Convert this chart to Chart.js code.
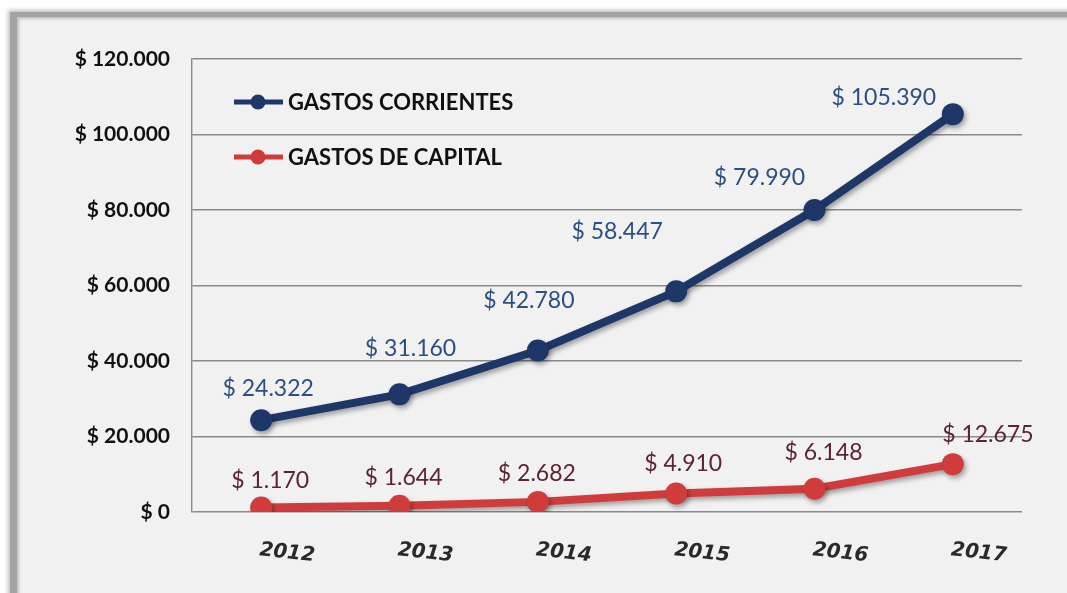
<!DOCTYPE html>
<html>
<head>
<meta charset="utf-8">
<script src="https://cdn.jsdelivr.net/npm/chart.js@4"></script>
<style>
    html, body { margin: 0; padding: 0; background: #fff; overflow: hidden; }
    #frame {
        position: absolute; left: 10px; top: 12px; width: 1100px; height: 640px;
        background: #f1f1f1;
        border-left: 7px solid #a3a3a3; border-top: 5px solid #a3a3a3;
        box-shadow: -2px -2px 4px rgba(0,0,0,0.25), inset 2px 2px 3px rgba(0,0,0,0.2);
    }
    #wrap { position: absolute; left: 0; top: 0; width: 1067px; height: 593px; }
</style>
</head>
<body>
<div id="frame"></div>
<div id="wrap"><canvas id="chart" width="1067" height="593"></canvas></div>
<script>
// Datos
const years = ['2012', '2013', '2014', '2015', '2016', '2017'];
const gastosCorrientes = [24322, 31160, 42780, 58447, 79990, 105390];
const gastosCapital = [1170, 1644, 2682, 4910, 6148, 12675];
const yTicks = [0, 20000, 40000, 60000, 80000, 100000, 120000];

const fmt = v => '$ ' + v.toLocaleString('de-DE');

// desplazamiento de las etiquetas respecto al punto (px)
const labelShift = [
    [[7, -32], [11, -46], [-9, -50], [-59, -60], [-55, -32], [-69, -17]],
    [[9, -27], [4, -28], [-1, -28], [7, -30], [9, -36], [35, -30]]
];
const labelColors = ['#2b4f80', '#5a2531'];

const shadowPlugin = {
    id: 'shadow',
    beforeDatasetDraw(chart) {
        const ctx = chart.ctx;
        ctx.save();
        ctx.shadowColor = 'rgba(0,0,0,0.35)';
        ctx.shadowBlur = 5;
        ctx.shadowOffsetX = 2;
        ctx.shadowOffsetY = 3;
    },
    afterDatasetDraw(chart) {
        chart.ctx.restore();
    }
};

const extras = {
    id: 'extras',
    afterDatasetsDraw(chart) {
        const ctx = chart.ctx;
        // etiquetas de datos
        ctx.save();
        ctx.font = '23px Lato';
        ctx.textAlign = 'center';
        ctx.textBaseline = 'middle';
        chart.data.datasets.forEach((ds, d) => {
            const meta = chart.getDatasetMeta(d);
            ctx.fillStyle = labelColors[d];
            meta.data.forEach((pt, i) => {
                const s = labelShift[d][i];
                ctx.fillText(fmt(ds.data[i]), pt.x + s[0], pt.y + s[1]);
            });
        });
        ctx.restore();

        // etiquetas eje x (inclinadas)
        const xs = chart.scales.x;
        ctx.save();
        ctx.font = 'italic bold 20px "DejaVu Sans"';
        ctx.fillStyle = '#2a2a2a';
        ctx.textAlign = 'center';
        ctx.textBaseline = 'middle';
        years.forEach((y, i) => {
            ctx.save();
            ctx.translate(xs.getPixelForTick(i) + 26, chart.chartArea.bottom + 41);
            ctx.rotate(6 * Math.PI / 180);
            ctx.fillText(y, 0, 0);
            ctx.restore();
        });
        ctx.restore();

        // leyenda
        const left = chart.chartArea.left;
        ctx.save();
        ctx.font = 'bold 22px Lato';
        ctx.textBaseline = 'middle';
        chart.data.datasets.forEach((ds, d) => {
            const y = 102 + d * 55;
            ctx.strokeStyle = ds.borderColor;
            ctx.lineWidth = 5;
            ctx.beginPath();
            ctx.moveTo(left + 42, y);
            ctx.lineTo(left + 91, y);
            ctx.stroke();
            ctx.fillStyle = ds.backgroundColor;
            ctx.beginPath();
            ctx.arc(left + 66, y, 7.5, 0, Math.PI * 2);
            ctx.fill();
            ctx.fillStyle = '#111';
            ctx.fillText(ds.label, left + 96, y + 1);
        });
        ctx.restore();
    }
};

new Chart(document.getElementById('chart'), {
    type: 'line',
    data: {
        labels: years,
        datasets: [{
            label: 'GASTOS CORRIENTES',
            data: gastosCorrientes,
            borderColor: '#1d3868',
            backgroundColor: '#1d3868',
            borderWidth: 8,
            pointRadius: 11,
            pointBorderWidth: 0,
            pointHoverRadius: 11,
            tension: 0
        }, {
            label: 'GASTOS DE CAPITAL',
            data: gastosCapital,
            borderColor: '#d03c3c',
            backgroundColor: '#d03c3c',
            borderWidth: 8,
            pointRadius: 11,
            pointBorderWidth: 0,
            pointHoverRadius: 11,
            tension: 0
        }]
    },
    options: {
        responsive: false,
        animation: false,
        devicePixelRatio: 1,
        layout: { padding: { left: 0, right: 45, top: 59, bottom: 0 } },
        plugins: { legend: { display: false }, tooltip: { enabled: false } },
        scales: {
            x: {
                offset: true,
                grid: { display: false },
                border: { display: false },
                ticks: { display: false },
                afterFit(s) { s.height = 81; }
            },
            y: {
                min: 0,
                max: 120000,
                afterBuildTicks(s) { s.ticks = yTicks.map(v => ({ value: v })); },
                afterFit(s) { s.width = 192; },
                grid: { color: '#8a8a8a', lineWidth: 1.4, drawTicks: false },
                border: { display: true, color: '#8a8a8a', width: 1.4 },
                ticks: {
                    padding: 22,
                    color: '#111',
                    font: { family: 'Lato', weight: 'bold', size: 21 },
                    callback: v => fmt(v)
                }
            }
        }
    },
    plugins: [shadowPlugin, extras]
});
</script>
</body>
</html>
